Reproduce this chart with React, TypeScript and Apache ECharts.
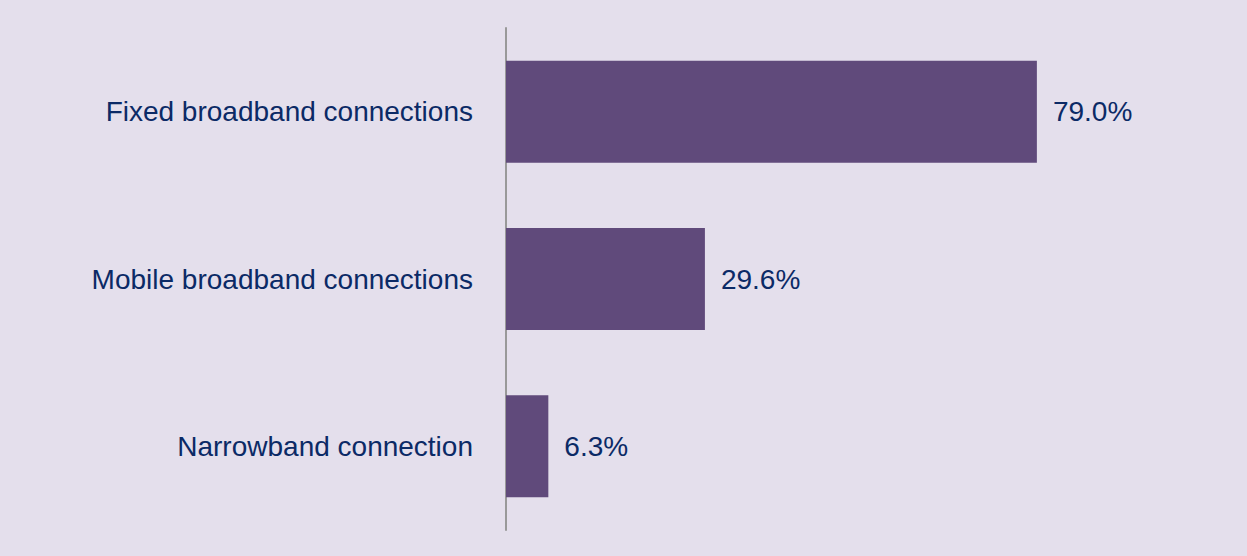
import React, { useEffect, useRef } from "react";
import * as echarts from "echarts";

const categories = ["Fixed broadband connections", "Mobile broadband connections", "Narrowband connection"];
const values = [79.0, 29.6, 6.3];

export default function App() {
  const ref = useRef<HTMLDivElement>(null);
  useEffect(() => {
    const chart = echarts.init(ref.current!, null, { renderer: "svg" });
    chart.setOption({
      animation: false,
      backgroundColor: "#E4DFEC",
      grid: { left: 506, right: 69, top: 28, bottom: 26, containLabel: false },
      xAxis: {
        type: "value",
        min: 0,
        max: 100,
        show: false,
      },
      yAxis: {
        type: "category",
        data: categories,
        inverse: true,
        axisLine: { show: true, lineStyle: { color: "#999999", width: 2 } },
        axisTick: { show: false },
        axisLabel: {
          margin: 33,
          color: "#0B2A66",
          fontFamily: "Liberation Sans, Arial, sans-serif",
          fontSize: 28,
        },
      },
      series: [
        {
          type: "bar",
          data: values,
          barWidth: "61%",
          itemStyle: { color: "#604A7B" },
          label: {
            show: true,
            position: "right",
            distance: 16,
            color: "#0B2A66",
            fontFamily: "Liberation Sans, Arial, sans-serif",
            fontSize: 28,
            formatter: (p: any) => p.value.toFixed(1) + "%",
          },
        },
      ],
    });
    return () => chart.dispose();
  }, []);
  return (
    <div
      ref={ref}
      style={{ position: "fixed", left: 0, top: 0, width: 1247, height: 556 }}
    />
  );
}
